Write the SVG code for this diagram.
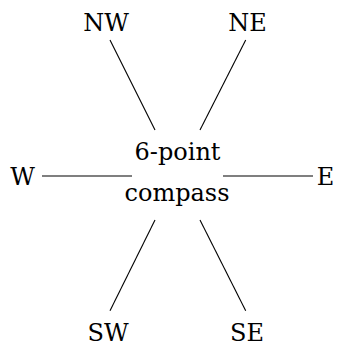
<svg xmlns="http://www.w3.org/2000/svg" width="337" height="343" viewBox="0 0 337 343">
<style>
text{font-family:"DejaVu Serif",serif;font-size:24px;fill:#000;text-anchor:middle}
.c line{stroke:#000;stroke-width:1.1}
</style>
<rect width="337" height="343" fill="#fff"/>
<g class="c" id="connectors">
<line x1="155" y1="130" x2="110" y2="40"/>
<line x1="200" y1="130" x2="245.7" y2="40"/>
<line x1="132" y1="176" x2="42" y2="176"/>
<line x1="223" y1="176" x2="313" y2="176"/>
<line x1="155" y1="220" x2="110" y2="310.7"/>
<line x1="200" y1="220" x2="245.7" y2="310.7"/>
</g>
<g id="center"><text x="177.5" y="160">6-point</text><text x="177" y="201">compass</text></g>
<g id="NW"><text x="106" y="30.7">NW</text></g>
<g id="NE"><text x="247.5" y="30.7">NE</text></g>
<g id="W"><text x="22.5" y="185">W</text></g>
<g id="E"><text x="325.5" y="185">E</text></g>
<g id="SW"><text x="108" y="340.7">SW</text></g>
<g id="SE"><text x="247" y="340.7">SE</text></g>
</svg>
